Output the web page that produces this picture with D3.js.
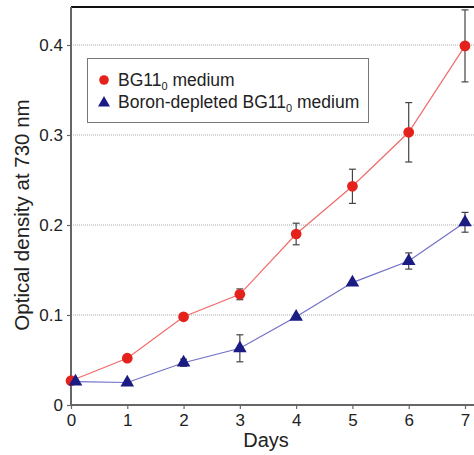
<!DOCTYPE html>
<html>
<head>
<meta charset="utf-8">
<script src="https://cdn.jsdelivr.net/npm/d3@7"></script>
<style>
  body { margin: 0; background: #fff; }
  svg text { font-family: "Liberation Sans", Arial, sans-serif; fill: #222; }
</style>
</head>
<body>
<svg width="474" height="455"></svg>
<script>
// data
const days = [0, 1, 2, 3, 4, 5, 6, 7];
const bgValues = [0.027, 0.052, 0.098, 0.123, 0.190, 0.243, 0.303, 0.399];
const bgErrors = [0, 0, 0, 0.006, 0.012, 0.019, 0.033, 0.040];
const boronDays = [0.08, 1, 2, 3, 4, 5, 6, 7];
const boronValues = [0.026, 0.025, 0.047, 0.063, 0.098, 0.136, 0.160, 0.203];
const boronErrors = [0, 0, 0.004, 0.015, 0, 0, 0.009, 0.011];
const yTicks = [0, 0.1, 0.2, 0.3, 0.4];

const svg = d3.select("svg"),
    width = +svg.attr("width"),
    height = +svg.attr("height");

const plotLeft = 71, plotTop = 7, plotBottom = 405, plotRight = 474;

const x = d3.scaleLinear().domain([0, 7]).range([plotLeft, 465]);
const y = d3.scaleLinear().domain([0, 0.4]).range([plotBottom, 45]);

// grid lines
svg.append("g").selectAll("line")
    .data(yTicks.slice(1))
    .join("line")
    .attr("x1", plotLeft).attr("x2", plotRight)
    .attr("y1", d => y(d)).attr("y2", d => y(d))
    .attr("stroke", "#aaa")
    .attr("stroke-width", 1)
    .attr("stroke-dasharray", "1,1");

// top border
svg.append("line")
    .attr("x1", plotLeft).attr("x2", plotRight)
    .attr("y1", plotTop).attr("y2", plotTop)
    .attr("stroke", "#111").attr("stroke-width", 1.8);

// axes
const yAxis = svg.append("g")
    .attr("transform", "translate(" + plotLeft + ",0)")
    .call(d3.axisLeft(y).tickValues(yTicks).tickSize(4).tickSizeOuter(0)
        .tickFormat(d => d === 0 ? "0" : d3.format(".1f")(d)));
yAxis.select(".domain").attr("d", "M0," + plotTop + "V" + plotBottom);

const xAxis = svg.append("g")
    .attr("transform", "translate(0," + plotBottom + ")")
    .call(d3.axisBottom(x).tickValues(days).tickSize(4).tickSizeOuter(0)
        .tickFormat(d3.format("d")));
xAxis.select(".domain").attr("d", "M" + plotLeft + ",0H" + plotRight);

svg.selectAll(".domain").attr("stroke", "#666").attr("stroke-width", 2);
svg.selectAll(".tick line").attr("stroke", "#666").attr("stroke-width", 1.2);
svg.selectAll(".tick text").attr("font-size", 17).attr("fill", "#222")
    .attr("font-family", "Liberation Sans, Arial, sans-serif");
yAxis.selectAll(".tick text").attr("x", -8);
xAxis.selectAll(".tick text").attr("y", 9);

// axis titles
svg.append("text")
    .attr("transform", "translate(29,215) rotate(-90)")
    .attr("text-anchor", "middle")
    .attr("font-size", 20.5)
    .text("Optical density at 730 nm");

svg.append("text")
    .attr("x", 266).attr("y", 447)
    .attr("text-anchor", "middle")
    .attr("font-size", 20)
    .text("Days");

function drawSeries(xs, vals, errs, lineColor, markColor, shape) {
    const pts = xs.map((d, i) => ({ x: d, y: vals[i], e: errs[i] }));
    const line = d3.line().x(d => x(d.x)).y(d => y(d.y));
    svg.append("path")
        .datum(pts)
        .attr("fill", "none")
        .attr("stroke", lineColor)
        .attr("stroke-width", 1.2)
        .attr("d", line);

    const eb = svg.append("g").attr("stroke", "#444").attr("stroke-width", 1.2);
    pts.filter(d => d.e > 0).forEach(d => {
        eb.append("line").attr("x1", x(d.x)).attr("x2", x(d.x))
            .attr("y1", y(d.y + d.e)).attr("y2", y(d.y - d.e));
        [d.y + d.e, d.y - d.e].forEach(v => {
            eb.append("line").attr("x1", x(d.x) - 3.5).attr("x2", x(d.x) + 3.5)
                .attr("y1", y(v)).attr("y2", y(v));
        });
    });

    svg.append("g").selectAll("path")
        .data(pts)
        .join("path")
        .attr("transform", d => "translate(" + x(d.x) + "," + y(d.y) + ")")
        .attr("d", d3.symbol().type(shape).size(shape === d3.symbolCircle ? 90 : 80))
        .attr("fill", markColor);
}

drawSeries(days, bgValues, bgErrors, "#f26a6a", "#e5211b", d3.symbolCircle);
drawSeries(boronDays, boronValues, boronErrors, "#7070c8", "#1b1b84", d3.symbolTriangle);

// legend
const legend = svg.append("g");
legend.append("rect")
    .attr("x", 87.5).attr("y", 58.5)
    .attr("width", 281).attr("height", 64)
    .attr("fill", "#fff")
    .attr("stroke", "#777").attr("stroke-width", 1);

legend.append("path")
    .attr("transform", "translate(104,80)")
    .attr("d", d3.symbol().type(d3.symbolCircle).size(72))
    .attr("fill", "#e5211b");
legend.append("path")
    .attr("transform", "translate(104,103)")
    .attr("d", d3.symbol().type(d3.symbolTriangle).size(62))
    .attr("fill", "#1b1b84");

const t1 = legend.append("text").attr("x", 118).attr("y", 86).attr("font-size", 17.5);
t1.append("tspan").text("BG11");
t1.append("tspan").attr("font-size", 11).attr("dy", 4).text("0");
t1.append("tspan").attr("dy", -4).text(" medium");

const t2 = legend.append("text").attr("x", 118).attr("y", 108).attr("font-size", 17.5);
t2.append("tspan").text("Boron-depleted BG11");
t2.append("tspan").attr("font-size", 11).attr("dy", 4).text("0");
t2.append("tspan").attr("dy", -4).text(" medium");
</script>
</body>
</html>
